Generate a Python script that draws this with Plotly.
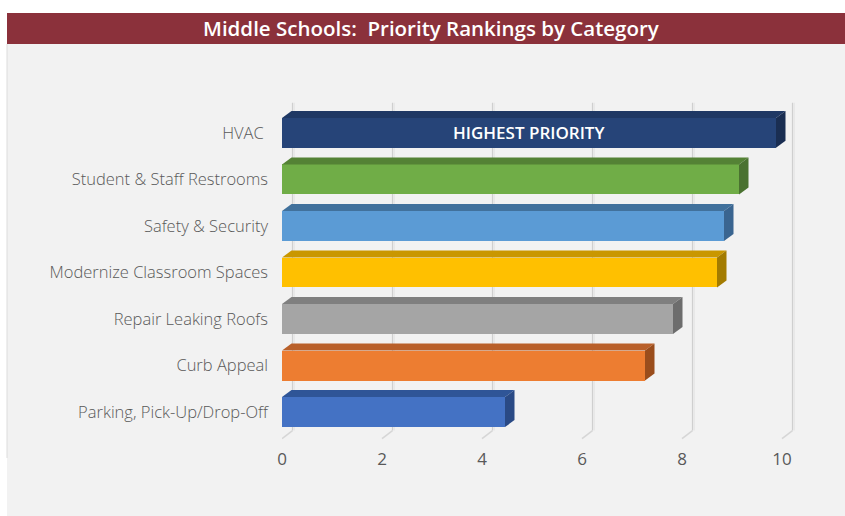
import plotly.graph_objects as go

# ---------------- data ----------------
categories = ["Parking, Pick-Up/Drop-Off", "Curb Appeal", "Repair Leaking Roofs",
              "Modernize Classroom Spaces", "Safety & Security",
              "Student & Staff Restrooms", "HVAC "]
values = [4.46, 7.26, 7.82, 8.70, 8.84, 9.14, 9.88]
x_ticks = [0, 2, 4, 6, 8, 10]
title_text = "Middle Schools:  Priority Rankings by Category"
highlight_text = "HIGHEST PRIORITY"

front_colors = ["#4472C4", "#ED7D31", "#A5A5A5", "#FFC000", "#5B9BD5", "#70AD47", "#264478"]
top_colors = ["#2F5597", "#B9602A", "#7F7F7F", "#C99700", "#41719C", "#548235", "#1F3864"]
side_colors = ["#2A4A85", "#9A4D1C", "#6D6D6D", "#A37B00", "#3A6590", "#4A7230", "#1A2E52"]

# ---------------- layout geometry ----------------
W, H = 845, 516
ML, MR, MT, MB = 282, 38, 91, 69
XR = [0, 10.5]
YR = [-0.75, 6.9]
plot_w = W - ML - MR
plot_h = H - MT - MB
ppx = plot_w / (XR[1] - XR[0])   # pixels per x unit
ppy = plot_h / (YR[1] - YR[0])   # pixels per y unit

bar_dx = 9.5 / ppx
bar_dy = 7.0 / ppy
wall_dx = 10.5 / ppx
wall_dy = 8.0 / ppy
half = 0.322
positions = list(range(len(categories)))


def pxx(p):
    return (p - ML) / plot_w


def pxy(p):
    return (H - MB - p) / plot_h


fig = go.Figure()

# 3D faces (top and side)
for i, (pos, v) in enumerate(zip(positions, values)):
    top_x = [0, v, v + bar_dx, bar_dx, 0]
    top_y = [pos + half, pos + half, pos + half + bar_dy, pos + half + bar_dy, pos + half]
    fig.add_trace(go.Scatter(x=top_x, y=top_y, fill="toself", mode="lines",
                             line=dict(width=0), fillcolor=top_colors[i],
                             hoverinfo="skip", showlegend=False))
    side_x = [v, v, v + bar_dx, v + bar_dx, v]
    side_y = [pos - half, pos + half, pos + half + bar_dy, pos - half + bar_dy, pos - half]
    fig.add_trace(go.Scatter(x=side_x, y=side_y, fill="toself", mode="lines",
                             line=dict(width=0), fillcolor=side_colors[i],
                             hoverinfo="skip", showlegend=False))

# front faces
fig.add_trace(go.Bar(x=values, y=positions, orientation="h", width=2 * half,
                     marker=dict(color=front_colors, line=dict(width=0)),
                     hoverinfo="x+y", showlegend=False))

shapes = []
# background strips
shapes.append(dict(type="rect", xref="paper", yref="paper", x0=pxx(0), x1=pxx(W),
                   y0=pxy(13), y1=pxy(0), fillcolor="white", line=dict(width=0), layer="above"))
shapes.append(dict(type="rect", xref="paper", yref="paper", x0=pxx(0), x1=pxx(7),
                   y0=pxy(H), y1=pxy(0), fillcolor="white", line=dict(width=0), layer="above"))
shapes.append(dict(type="line", xref="paper", yref="paper", x0=pxx(7), x1=pxx(7),
                   y0=pxy(458), y1=pxy(44), line=dict(color="#DCDCDC", width=1), layer="above"))
# title bar
shapes.append(dict(type="rect", xref="paper", yref="paper", x0=pxx(7), x1=pxx(W),
                   y0=pxy(44), y1=pxy(13), fillcolor="#8B313B", line=dict(width=0), layer="above"))

# 3D wall gridlines
y_top = YR[1] - 0.25
y_back_bot = YR[0] + wall_dy + 0.18
y_front_bot = YR[0] + 0.18
for t in x_ticks:
    xb = t + wall_dx
    shapes.append(dict(type="line", x0=xb, x1=xb, y0=y_back_bot, y1=y_top,
                       line=dict(color="#CFCFCF", width=1.2), layer="below"))
    shapes.append(dict(type="line", x0=xb + 1.6 / ppx, x1=xb + 1.6 / ppx, y0=y_back_bot, y1=y_top,
                       line=dict(color="#E4E4E4", width=1.2), layer="below"))
    shapes.append(dict(type="line", x0=xb, x1=t, y0=y_back_bot, y1=y_front_bot,
                       line=dict(color="#D6D6D6", width=1.5), layer="below"))

annotations = [
    dict(xref="paper", yref="paper", x=pxx(431), y=pxy(28), text=title_text, showarrow=False,
         font=dict(family="Open Sans", size=20.5, color="white", weight=600),
         xanchor="center", yanchor="middle"),
    dict(x=values[-1] / 2, y=positions[-1], text=highlight_text, showarrow=False,
         font=dict(family="Open Sans", size=17, color="white", weight=600),
         xanchor="center", yanchor="middle"),
]

fig.update_layout(
    width=W, height=H,
    margin=dict(l=ML, r=MR, t=MT, b=MB, pad=0),
    paper_bgcolor="#F2F2F2", plot_bgcolor="#F2F2F2",
    shapes=shapes, annotations=annotations,
    bargap=0, showlegend=False,
    xaxis=dict(range=XR, tickvals=x_ticks, ticktext=[str(t) for t in x_ticks],
               showgrid=False, zeroline=False, showline=False,
               ticks="",
               tickfont=dict(family="Open Sans", size=17, color="#595959"), fixedrange=True),
    yaxis=dict(range=YR, tickvals=positions, ticktext=categories,
               showgrid=False, zeroline=False, showline=False,
               ticks="", ticklabelstandoff=13,
               tickfont=dict(family="Open Sans", size=16.5, color="#595959", weight=300),
               fixedrange=True),
)

fig.write_html("out.html", config={"displayModeBar": False},
               post_script="document.body.style.margin='0';document.body.style.overflow='hidden';")
